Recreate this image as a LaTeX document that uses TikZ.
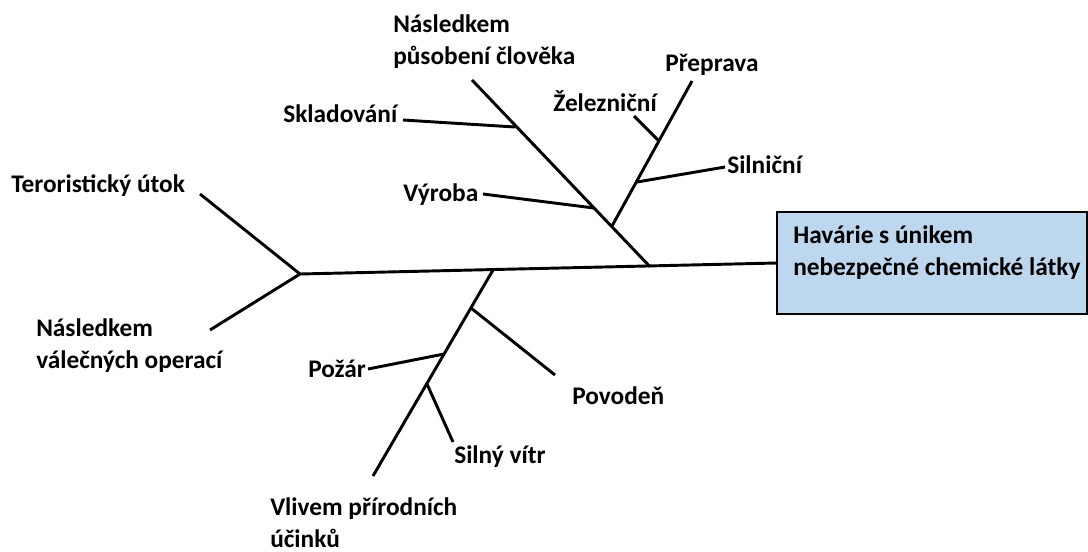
\documentclass[tikz,border=0pt]{standalone}
\usepackage{fontspec}
\setmainfont{Carlito}
\definecolor{boxblue}{RGB}{189,215,238}
\begin{document}
\begin{tikzpicture}[x=0.75pt,y=0.75pt,yscale=-1,xscale=1,
  bone/.style={line width=2.2pt},
  lbl/.style={font=\bfseries\fontsize{19}{23.5}\selectfont, align=left, inner sep=0pt, anchor=base west},
  effect/.style={draw=black, line width=0.8pt, fill=boxblue, minimum width=232.5pt, minimum height=76.5pt, inner sep=0pt}]
\useasboundingbox (0,0) rectangle (1088,551);

% Effect box
\node[effect] (havarie) at (932,263) {};
\node[lbl] (havarietext) at (793,275) {Havárie s únikem\\nebezpečné chemické látky};

% Text Node (two-line nodes sit on their last baseline)
\node[lbl] (teror) at (11,192) {Teroristický útok};
\node[lbl] (valka) at (36,368) {Následkem\\válečných operací};
\node[lbl] (clovek) at (393,64) {Následkem\\působení člověka};
\node[lbl] (sklad) at (283,122) {Skladování};
\node[lbl] (vyroba) at (403,201) {Výroba};
\node[lbl] (preprava) at (665,71) {Přeprava};
\node[lbl] (zeleznice) at (553,111) {Železniční};
\node[lbl] (silnice) at (727,173) {Silniční};
\node[lbl] (priroda) at (270,547) {Vlivem přírodních\\účinků};
\node[lbl] (pozar) at (308,377) {Požár};
\node[lbl] (povoden) at (572,404) {Povodeň};
\node[lbl] (vitr) at (454,463) {Silný vítr};

% joints and free ends
\coordinate (tail) at (300,274);
\coordinate (jA) at (650,266.7);
\coordinate (jB) at (493,270);
\coordinate (terorEnd) at (200,194);
\coordinate (valkaEnd) at (210,330);
\coordinate (clovekEnd) at (472,80);
\coordinate (skladEnd) at (403,120);
\coordinate (skladJ) at (515,127);
\coordinate (vyrobaEnd) at (483,194);
\coordinate (vyrobaJ) at (594,208);
\coordinate (prepravaEnd) at (692,81);
\coordinate (prepravaJ) at (612,226);
\coordinate (zelezniceEnd) at (634,116);
\coordinate (zelezniceJ) at (659,141);
\coordinate (silniceEnd) at (725,167);
\coordinate (silniceJ) at (637,182);
\coordinate (prirodaEnd) at (373,476);
\coordinate (povodenEnd) at (555,375);
\coordinate (povodenJ) at (471,308);
\coordinate (pozarEnd) at (368,369);
\coordinate (pozarJ) at (444,354);
\coordinate (vitrEnd) at (453,442);
\coordinate (vitrJ) at (427,384);

% spine
\draw[bone] (tail) -- (havarie.west);
\draw[bone] (terorEnd) -- (tail) -- (valkaEnd);
% human causes
\draw[bone] (clovekEnd) -- (jA);
\draw[bone] (skladEnd) -- (skladJ);
\draw[bone] (vyrobaEnd) -- (vyrobaJ);
\draw[bone] (prepravaEnd) -- (prepravaJ);
\draw[bone] (zelezniceEnd) -- (zelezniceJ);
\draw[bone] (silniceEnd) -- (silniceJ);
% natural causes
\draw[bone] (jB) -- (prirodaEnd);
\draw[bone] (povodenEnd) -- (povodenJ);
\draw[bone] (pozarEnd) -- (pozarJ);
\draw[bone] (vitrEnd) -- (vitrJ);
\end{tikzpicture}
\end{document}
